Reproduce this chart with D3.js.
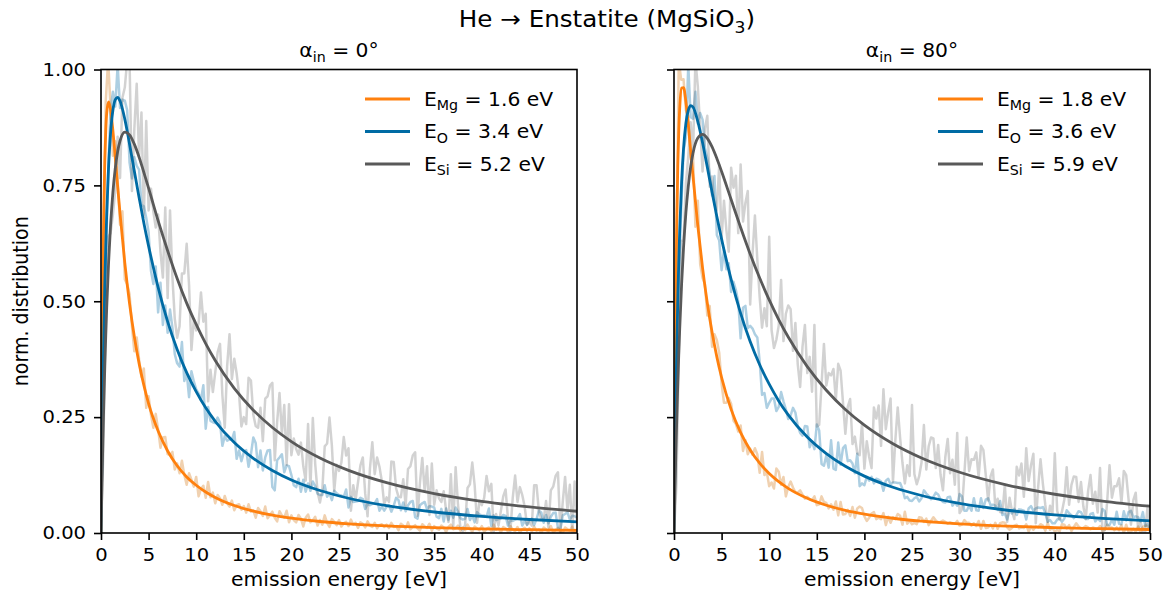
<!DOCTYPE html>
<html>
<head>
<meta charset="utf-8">
<script src="https://cdn.jsdelivr.net/npm/d3@7"></script>
<style>
  body { margin: 0; background: #fff; }
  svg { display: block; }
  text { font-family: "DejaVu Sans", sans-serif; }
</style>
</head>
<body>
<div id="chart"></div>
<script>
// ---- DATA ----
const species = ["Mg", "O", "Si"];
const legendE0 = ["1.6", "3.4", "5.2"];
const legendE80 = ["1.8", "3.6", "5.9"];
const xTicks = [0, 5, 10, 15, 20, 25, 30, 35, 40, 45, 50];
const yTicks = [0, 0.25, 0.5, 0.75, 1];

// fitted curves
const fitE = [0,0.1,0.2,0.3,0.4,0.5,0.6,0.8,1,1.25,1.5,1.75,2,2.5,3,3.5,4,4.5,5,6,7,8,9,10,11,12,14,16,18,20,23,26,30,35,40,45,50];
const fitMg0 = [0,0.327,0.551,0.703,0.804,0.868,0.906,0.930,0.914,0.868,0.809,0.748,0.689,0.583,0.495,0.424,0.366,0.319,0.279,0.220,0.177,0.145,0.121,0.103,0.0884,0.0767,0.0593,0.0472,0.0384,0.0319,0.0248,0.0199,0.0153,0.0115,0.0089,0.0071,0.0058];
const fitO0 = [0,0.171,0.314,0.434,0.535,0.618,0.688,0.792,0.861,0.912,0.935,0.940,0.932,0.893,0.839,0.781,0.724,0.669,0.619,0.530,0.456,0.396,0.346,0.305,0.270,0.241,0.195,0.161,0.135,0.1145,0.0917,0.0750,0.0591,0.0453,0.0359,0.0291,0.0241];
const fitSi0 = [0,0.106,0.2005,0.285,0.360,0.426,0.486,0.585,0.662,0.735,0.787,0.823,0.846,0.865,0.859,0.839,0.811,0.778,0.744,0.674,0.609,0.549,0.496,0.450,0.4085,0.372,0.312,0.265,0.2276,0.1973,0.1619,0.1352,0.1086,0.0851,0.0684,0.0562,0.0469];
const fitMg80 = [0,0.308,0.5275,0.683,0.793,0.867,0.916,0.960,0.961,0.930,0.881,0.825,0.769,0.663,0.572,0.496,0.433,0.380,0.3355,0.2668,0.2167,0.1793,0.1508,0.1284,0.1107,0.0963,0.0749,0.0599,0.0489,0.0407,0.0318,0.0255,0.0197,0.0148,0.0116,0.0093,0.0076];
const fitO80 = [0,0.159,0.294,0.408,0.504,0.585,0.653,0.7575,0.829,0.884,0.912,0.922,0.919,0.888,0.842,0.789,0.735,0.683,0.634,0.547,0.474,0.413,0.363,0.321,0.285,0.255,0.207,0.1714,0.1441,0.1227,0.0986,0.0809,0.0638,0.0491,0.0389,0.0316,0.0262];
const fitSi80 = [0,0.0936,0.178,0.254,0.323,0.385,0.441,0.5375,0.615,0.691,0.748,0.790,0.820,0.852,0.860,0.8515,0.833,0.808,0.780,0.7195,0.659,0.602,0.550,0.503,0.4605,0.4228,0.359,0.308,0.2664,0.2326,0.1925,0.1618,0.1310,0.1034,0.0836,0.0690,0.0578];

// raw (noisy) histograms, 0.25 eV bins
const rawE = [
0,0.25,0.5,0.75,1,1.25,1.5,1.75,2,2.25,2.5,2.75,3,3.25,3.5,3.75,4,4.25,4.5,4.75,
5,5.25,5.5,5.75,6,6.25,6.5,6.75,7,7.25,7.5,7.75,8,8.25,8.5,8.75,9,9.25,9.5,9.75,
10,10.25,10.5,10.75,11,11.25,11.5,11.75,12,12.25,12.5,12.75,13,13.25,13.5,13.75,14,14.25,14.5,14.75,
15,15.25,15.5,15.75,16,16.25,16.5,16.75,17,17.25,17.5,17.75,18,18.25,18.5,18.75,19,19.25,19.5,19.75,
20,20.25,20.5,20.75,21,21.25,21.5,21.75,22,22.25,22.5,22.75,23,23.25,23.5,23.75,24,24.25,24.5,24.75,
25,25.25,25.5,25.75,26,26.25,26.5,26.75,27,27.25,27.5,27.75,28,28.25,28.5,28.75,29,29.25,29.5,29.75,
30,30.25,30.5,30.75,31,31.25,31.5,31.75,32,32.25,32.5,32.75,33,33.25,33.5,33.75,34,34.25,34.5,34.75,
35,35.25,35.5,35.75,36,36.25,36.5,36.75,37,37.25,37.5,37.75,38,38.25,38.5,38.75,39,39.25,39.5,39.75,
40,40.25,40.5,40.75,41,41.25,41.5,41.75,42,42.25,42.5,42.75,43,43.25,43.5,43.75,44,44.25,44.5,44.75,
45,45.25,45.5,45.75,46,46.25,46.5,46.75,47,47.25,47.5,47.75,48,48.25,48.5,48.75,49,49.25,49.5,49.75,50];

const rawMg0 = [
0,.594,.932,1.02,.920,.814,.845,.760,.665,.694,.547,.537,.515,.446,.392,.422,.374,.337,.355,.270,
.295,.255,.227,.257,.223,.184,.206,.207,.170,.168,.175,.137,.150,.129,.156,.125,.104,.129,.115,.100,
.121,.079,.095,.102,.076,.110,.077,.087,.064,.082,.075,.061,.080,.064,.057,.070,.049,.060,.062,.050,
.058,.044,.062,.046,.049,.033,.054,.047,.037,.057,.032,.039,.046,.033,.025,.047,.038,.033,.048,.023,
.038,.028,.023,.039,.031,.014,.033,.040,.023,.027,.035,.016,.028,.018,.038,.022,.013,.030,.024,.017,
.028,.014,.021,.024,.015,.029,.018,.022,.011,.023,.020,.012,.025,.016,.013,.022,.010,.017,.019,.013,
.018,.011,.022,.013,.015,.006,.020,.016,.010,.023,.008,.013,.017,.010,.005,.019,.014,.011,.020,.005,
.015,.010,.007,.016,.012,.002,.013,.018,.008,.010,.016,.005,.012,.006,.018,.009,.003,.014,.010,.006,
.015,.002,.009,.012,.004,.018,.007,.011,.001,.013,.010,.003,.015,.007,.004,.013,.001,.008,.011,.005,
.010,.003,.014,.005,.008,.000,.012,.008,.003,.015,.001,.006,.011,.003,.000,.012,.008,.005,.014,.000,.009];
const rawO0 = [
0,.383,.582,.776,.911,.952,.920,1.01,.917,.935,.933,.912,.799,.765,.811,.792,.784,.708,.705,.680,
.649,.566,.537,.575,.476,.540,.449,.491,.432,.482,.443,.386,.366,.359,.412,.328,.346,.293,.349,.327,
.310,.301,.287,.319,.225,.272,.242,.239,.237,.249,.238,.188,.209,.199,.202,.201,.218,.160,.178,.155,
.174,.179,.143,.170,.206,.194,.142,.178,.135,.163,.178,.179,.099,.092,.157,.163,.170,.131,.146,.144,
.125,.103,.099,.117,.089,.115,.089,.107,.091,.111,.101,.085,.082,.082,.103,.078,.086,.071,.091,.086,
.082,.081,.078,.094,.055,.078,.067,.068,.069,.076,.073,.052,.063,.060,.063,.064,.073,.048,.057,.048,
.057,.060,.046,.059,.076,.071,.049,.066,.047,.060,.067,.069,.034,.031,.060,.064,.067,.051,.058,.057,
.055,.035,.032,.052,.025,.053,.028,.048,.033,.055,.046,.032,.029,.031,.052,.028,.037,.023,.045,.040,
.038,.038,.035,.053,.015,.038,.028,.030,.031,.039,.037,.016,.028,.026,.029,.031,.041,.016,.026,.018,
.027,.031,.017,.030,.048,.044,.022,.039,.021,.035,.043,.044,.010,.008,.038,.041,.045,.029,.037,.036,.034];
const rawSi0 = [
0,.180,.503,.639,.646,.687,.739,.855,.766,.939,.961,1.02,1.019,.738,.871,.969,.811,.907,.682,.889,
.696,.743,.693,.659,.687,.606,.551,.702,.507,.696,.553,.462,.421,.446,.560,.560,.624,.535,.395,.461,
.437,.452,.519,.456,.473,.284,.352,.304,.346,.390,.408,.298,.227,.360,.429,.332,.376,.344,.300,.230,
.250,.235,.335,.329,.255,.231,.227,.270,.198,.290,.295,.318,.324,.157,.239,.302,.213,.276,.147,.278,
.168,.204,.181,.169,.195,.144,.113,.235,.097,.248,.149,.088,.066,.093,.187,.193,.249,.189,.091,.147,
.134,.152,.207,.167,.183,.048,.103,.072,.110,.146,.163,.086,.036,.139,.196,.127,.163,.143,.112,.062,
.077,.067,.154,.153,.096,.078,.077,.116,.059,.138,.144,.167,.174,.037,.108,.162,.089,.144,.039,.150,
.061,.092,.075,.067,.090,.049,.024,.127,.014,.142,.061,.012,.004,.018,.097,.105,.152,.103,.022,.069,
.060,.076,.123,.090,.106,.003,.041,.016,.047,.079,.094,.030,.004,.076,.124,.067,.099,.082,.057,.017,
.024,.016,.103,.103,.046,.030,.029,.069,.012,.092,.100,.123,.131,.002,.066,.121,.049,.104,.003,.111,.023];
const rawMg80 = [
0,.596,1.02,.978,.979,.912,.899,.807,.817,.661,.717,.580,.550,.537,.469,.490,.402,.429,.416,.389,
.322,.281,.281,.291,.279,.242,.235,.219,.232,.177,.200,.170,.182,.169,.183,.170,.130,.175,.125,.131,
.101,.109,.096,.139,.132,.104,.121,.079,.099,.111,.098,.088,.087,.092,.083,.074,.078,.073,.071,.079,
.060,.062,.079,.067,.065,.053,.062,.050,.068,.038,.067,.040,.041,.050,.037,.056,.033,.053,.057,.054,
.036,.026,.033,.042,.045,.030,.033,.030,.043,.017,.035,.022,.034,.030,.041,.037,.018,.046,.020,.026,
.019,.022,.019,.034,.033,.024,.031,.017,.026,.034,.027,.023,.024,.027,.024,.020,.023,.021,.020,.026,
.016,.018,.028,.022,.022,.016,.021,.015,.026,.009,.026,.011,.012,.018,.010,.022,.009,.021,.023,.022,
.012,.007,.011,.016,.018,.010,.012,.011,.019,.003,.014,.007,.014,.012,.019,.016,.005,.022,.007,.011,
.003,.007,.003,.019,.018,.010,.017,.004,.013,.021,.014,.010,.011,.015,.012,.008,.012,.010,.009,.015,
.005,.007,.018,.012,.012,.006,.012,.006,.017,.000,.018,.002,.003,.009,.002,.014,.001,.013,.016,.015,.005];
const rawO80 = [
0,.401,.543,.693,.824,.854,1.01,.897,.894,.952,.883,.906,.892,.831,.809,.777,.728,.770,.643,.631,
.567,.611,.569,.582,.520,.542,.524,.499,.420,.486,.490,.442,.447,.441,.429,.422,.370,.298,.302,.270,
.281,.290,.290,.263,.272,.304,.284,.267,.246,.254,.270,.260,.231,.216,.210,.231,.230,.185,.198,.181,
.234,.221,.149,.145,.167,.141,.200,.139,.136,.195,.147,.183,.189,.155,.157,.150,.129,.171,.101,.107,
.103,.121,.113,.121,.107,.117,.115,.111,.091,.113,.117,.105,.109,.109,.108,.108,.095,.075,.078,.070,
.069,.075,.078,.068,.075,.092,.085,.080,.073,.078,.087,.083,.072,.067,.066,.077,.078,.059,.066,.059,
.084,.079,.048,.048,.059,.048,.075,.049,.048,.075,.054,.072,.075,.060,.061,.059,.050,.069,.039,.042,
.029,.049,.042,.052,.039,.051,.050,.048,.029,.053,.058,.048,.053,.055,.054,.056,.043,.024,.028,.021,
.021,.029,.032,.024,.031,.049,.043,.038,.032,.038,.047,.045,.035,.030,.030,.041,.043,.025,.032,.026,
.052,.047,.017,.017,.029,.018,.046,.020,.019,.047,.027,.045,.048,.034,.036,.034,.025,.045,.015,.019,.006];
const rawSi80 = [
0,.102,.385,.630,.631,.755,.812,.886,.820,1.02,.964,.875,.780,.873,.900,.747,.769,.709,.696,.794,
.636,.717,.654,.607,.788,.745,.771,.647,.795,.672,.712,.738,.493,.603,.685,.590,.509,.443,.485,.446,
.639,.438,.399,.417,.447,.546,.414,.473,.491,.483,.393,.453,.364,.315,.402,.449,.345,.380,.305,.449,
.230,.233,.321,.408,.318,.345,.340,.354,.287,.365,.350,.282,.214,.272,.289,.192,.208,.172,.168,.237,
.139,.198,.164,.140,.271,.247,.275,.188,.310,.224,.261,.290,.110,.200,.271,.206,.151,.107,.146,.123,
.276,.127,.105,.122,.152,.233,.137,.187,.206,.204,.140,.190,.125,.092,.164,.203,.129,.158,.104,.216,
.043,.051,.128,.206,.134,.159,.158,.174,.120,.188,.179,.125,.070,.122,.137,.057,.074,.045,.044,.104,
.024,.076,.048,.030,.143,.124,.150,.078,.183,.112,.146,.171,.021,.099,.159,.106,.061,.024,.059,.040,
.172,.048,.029,.046,.072,.142,.061,.104,.122,.121,.067,.110,.057,.030,.091,.125,.063,.089,.044,.140,
.004,.006,.068,.146,.076,.101,.101,.118,.065,.134,.125,.072,.018,.071,.087,.008,.025,.004,.003,.058,.002];

// ---- LAYOUT ----
const W = 1168, H = 600;
const topY = 69.5;
const width = 476, height = 463.5;
const SX = 1.07;               // glyphs in the reference are a bit wide
const colors = ["#FF800E", "#006BA4", "#595959"];
const rawColors = ["#D98C3A", "#006BA4", "#595959"];
const rawAlpha = [0.4, 0.32, 0.27];

const svg = d3.select("#chart").append("svg")
    .attr("width", W)
    .attr("height", H);

// text with optional subscripts: parts = ["E", ["Mg"], " = 1.6 eV"]
function label(g, x, y, parts, size, anchor, rot) {
  const t = g.append("text")
      .attr("transform", `translate(${x},${y}) scale(${SX},1)` + (rot ? ` rotate(${rot})` : ""))
      .attr("text-anchor", anchor || "start")
      .attr("fill", "#000")
      .style("font-size", size + "px");
  let low = false;
  parts.forEach(p => {
    const sub = Array.isArray(p);
    const s = t.append("tspan").text(sub ? p[0] : p);
    if (sub) {
      s.style("font-size", (size * 0.7) + "px").attr("dy", size * 0.24);
      low = true;
    } else if (low) {
      s.attr("dy", -size * 0.24);
      low = false;
    }
  });
  return t;
}

const panels = [
  { left: 101, angle: "0°", fits: [fitMg0, fitO0, fitSi0], raws: [rawMg0, rawO0, rawSi0], legE: legendE0, yLabels: true },
  { left: 674, angle: "80°", fits: [fitMg80, fitO80, fitSi80], raws: [rawMg80, rawO80, rawSi80], legE: legendE80, yLabels: false }
];

const x = d3.scaleLinear().domain([0, 50]).range([0, width]);
const y = d3.scaleLinear().domain([0, 1]).range([height, 0]);

panels.forEach((p, pi) => {
  const g = svg.append("g").attr("transform", `translate(${p.left},${topY})`);

  g.append("clipPath").attr("id", "clip" + pi)
    .append("rect").attr("width", width).attr("height", height);

  const plot = g.append("g").attr("clip-path", `url(#clip${pi})`);

  // noisy raw data
  p.raws.forEach((raw, i) => {
    const pts = rawE.map((e, j) => [e, raw[j]]).filter(d => d[1] !== undefined);
    plot.append("path")
        .datum(pts)
        .attr("fill", "none")
        .attr("stroke", rawColors[i])
        .attr("stroke-opacity", rawAlpha[i])
        .attr("stroke-width", 2.5)
        .attr("stroke-linejoin", "round")
        .attr("d", d3.line().x(d => x(d[0])).y(d => y(d[1])));
  });

  // fitted curves
  p.fits.forEach((fit, i) => {
    plot.append("path")
        .datum(fitE.map((e, j) => [e, fit[j]]))
        .attr("fill", "none")
        .attr("stroke", colors[i])
        .attr("stroke-width", 2.8)
        .attr("d", d3.line().x(d => x(d[0])).y(d => y(d[1])).curve(d3.curveMonotoneX));
  });

  // axes
  const xAxis = g.append("g")
      .attr("transform", `translate(0,${height})`)
      .call(d3.axisBottom(x).tickValues(xTicks).tickSize(7).tickPadding(8).tickSizeOuter(0));
  const yAxis = g.append("g")
      .call(d3.axisLeft(y).tickValues(yTicks).tickSize(7).tickPadding(7).tickSizeOuter(0)
        .tickFormat(p.yLabels ? d3.format(".2f") : ""));

  [xAxis, yAxis].forEach(a => {
    a.attr("font-size", null).attr("font-family", null);
    a.select(".domain").remove();
    a.selectAll(".tick line").attr("stroke", "#000").attr("stroke-width", 1.6);
    a.selectAll(".tick text")
        .attr("fill", "#000")
        .attr("transform", `scale(${SX},1)`)
        .style("font-size", "18.3px");
  });

  // frame
  g.append("rect")
      .attr("width", width)
      .attr("height", height)
      .attr("fill", "none")
      .attr("stroke", "#000")
      .attr("stroke-width", 1.6);

  // panel title and axis label
  label(g, width / 2, 57 - topY, ["α", ["in"], " = " + p.angle], 19, "middle");
  label(g, width / 2, 586 - topY, ["emission energy [eV]"], 19, "middle");

  // legend
  species.forEach((s, i) => {
    const ly = 99 - topY + i * 32.5;
    g.append("line")
        .attr("x1", 264).attr("x2", 309)
        .attr("y1", ly).attr("y2", ly)
        .attr("stroke", colors[i])
        .attr("stroke-width", 2.8);
    label(g, 323, ly + 6.8, ["E", [s], ` = ${p.legE[i]} eV`], 19, "start");
  });
});

label(svg, 28, topY + height / 2, ["norm. distribution"], 19, "middle", -90);
label(svg, 607, 27, ["He → Enstatite (MgSiO", ["3"], ")"], 23, "middle");
</script>
</body>
</html>
